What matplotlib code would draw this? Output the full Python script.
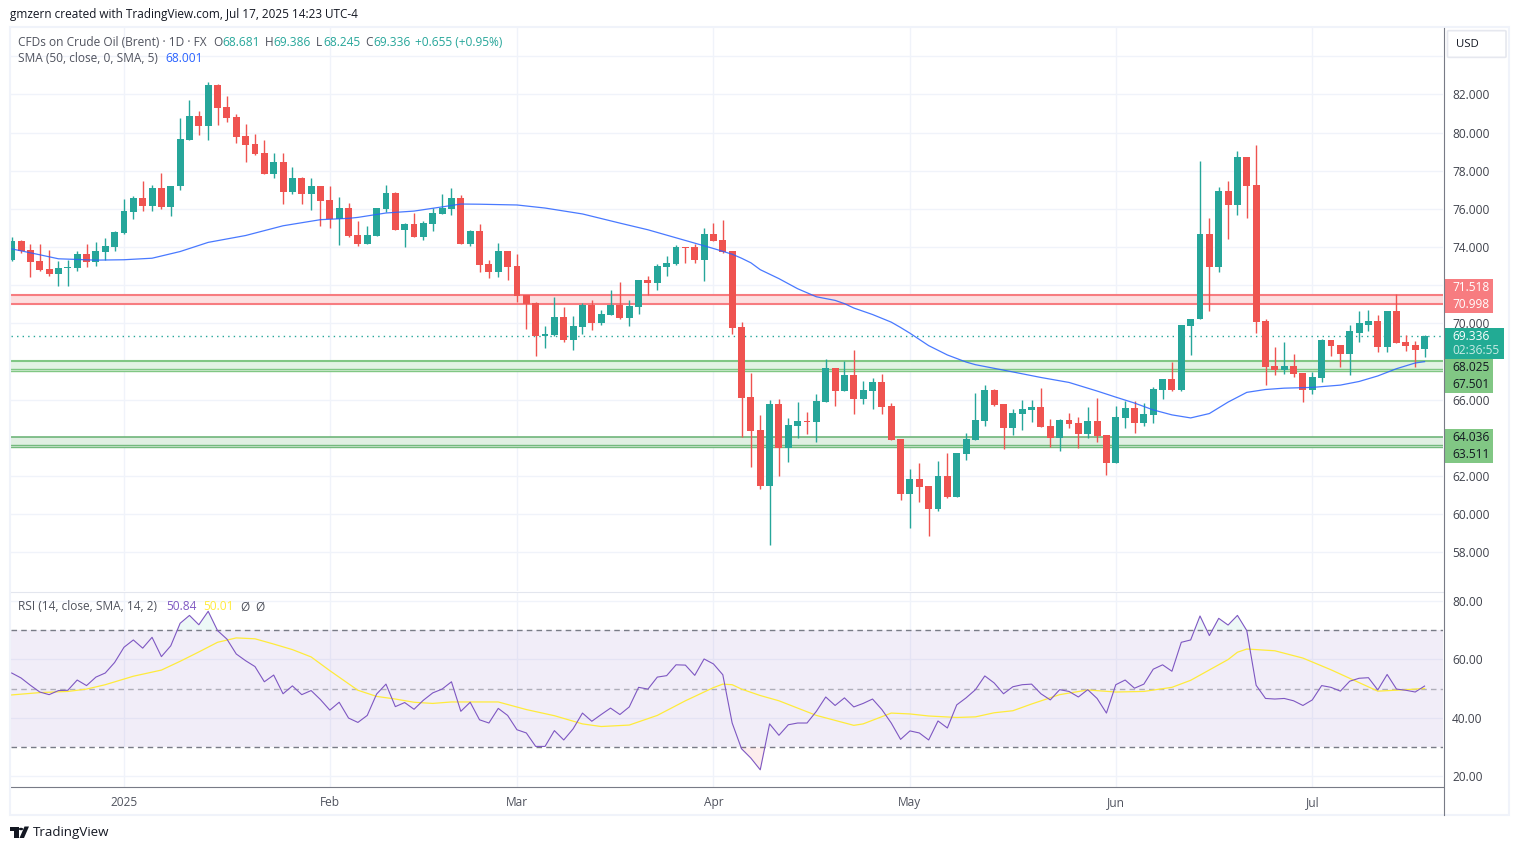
import matplotlib
matplotlib.use('Agg')
import matplotlib.pyplot as plt
from matplotlib.patches import Rectangle, FancyBboxPatch, Circle, Polygon
from matplotlib.ticker import FormatStrFormatter

W, H = 1519, 850

opens = [73.33, 74.33, 73.86, 73.28, 72.86, 72.60, 72.91, 72.91, 73.65, 73.23,
         73.75, 74.02, 74.75, 75.86, 76.60, 76.18, 77.12, 76.12, 77.18, 79.60,
         80.86, 80.33, 82.49, 81.33, 80.81, 79.81, 79.39, 78.91, 77.81, 78.44,
         76.91, 77.60, 76.81, 77.18, 76.49, 75.49, 76.07, 74.65, 74.18, 74.60,
         76.02, 76.86, 74.91, 75.23, 74.54, 75.23, 75.75, 76.02, 76.60, 74.18,
         74.86, 73.12, 72.70, 73.81, 73.02, 71.49, 71.07, 69.33, 69.39, 70.33,
         69.12, 69.81, 70.96, 70.02, 70.44, 70.96, 70.28, 70.86, 72.28, 72.12,
         72.96, 73.12, 74.02, 74.02, 73.33, 74.70, 74.39, 73.81, 69.81, 66.14,
         64.42, 61.48, 65.78, 63.47, 64.62, 64.89, 64.83, 65.88, 67.66, 66.46,
         67.29, 66.04, 66.46, 66.93, 65.67, 63.94, 61.06, 61.85, 61.48, 60.28,
         62.01, 60.91, 63.16, 63.89, 64.89, 66.51, 65.78, 64.52, 65.25, 65.46,
         65.62, 64.62, 64.00, 64.94, 64.78, 64.21, 64.89, 64.15, 62.69, 65.06,
         65.58, 64.80, 65.22, 66.53, 67.11, 66.53, 69.89, 70.21, 74.67, 72.94,
         76.93, 76.20, 78.72, 77.25, 70.15, 67.79, 67.58, 67.79, 67.42, 66.53,
         67.16, 69.16, 68.89, 68.42, 69.52, 69.94, 70.15, 68.79, 70.63, 69.05,
         68.89, 68.681]
closes = [74.33, 73.81, 73.23, 72.81, 72.60, 72.91, 72.96, 73.65, 73.23, 73.81,
          74.07, 74.81, 75.91, 76.60, 76.18, 77.12, 76.12, 77.23, 79.65, 80.86,
          80.33, 82.49, 81.28, 80.75, 79.75, 79.33, 78.86, 77.81, 78.44, 76.91,
          77.60, 76.81, 77.18, 76.44, 75.49, 76.07, 74.60, 74.18, 74.65, 76.07,
          76.86, 74.91, 75.23, 74.54, 75.28, 75.81, 76.07, 76.60, 74.18, 74.86,
          73.07, 72.70, 73.81, 72.96, 71.44, 71.02, 69.33, 69.44, 70.33, 69.12,
          69.86, 70.96, 70.02, 70.49, 70.96, 70.28, 70.91, 72.28, 72.12, 73.02,
          73.18, 74.02, 73.96, 73.33, 74.70, 74.33, 73.75, 69.75, 66.09, 64.36,
          61.48, 65.78, 63.47, 64.68, 64.89, 64.83, 65.93, 67.66, 66.46, 67.29,
          66.04, 66.51, 66.93, 65.62, 63.89, 61.06, 61.85, 61.43, 60.28, 62.01,
          60.91, 63.21, 63.94, 64.94, 66.51, 65.72, 64.52, 65.31, 65.51, 65.62,
          64.57, 64.00, 64.94, 64.73, 64.21, 64.89, 64.10, 62.69, 65.11, 65.58,
          64.80, 65.27, 66.58, 67.11, 66.53, 69.94, 70.26, 74.67, 72.94, 76.93,
          76.20, 78.72, 77.19, 70.10, 67.74, 67.58, 67.79, 67.37, 66.53, 67.21,
          69.16, 68.84, 68.42, 69.58, 70.00, 70.15, 68.79, 70.63, 69.00, 68.84,
          68.63, 69.336]
highs = [74.54, 74.39, 74.18, 74.18, 73.86, 73.28, 73.33, 73.81, 74.18, 74.28,
         74.49, 74.86, 76.54, 76.70, 77.49, 77.28, 77.86, 77.23, 80.75, 81.70,
         81.12, 82.65, 82.54, 81.91, 80.96, 80.44, 79.91, 79.60, 78.96, 78.96,
         78.18, 77.70, 77.60, 77.18, 77.23, 76.65, 76.33, 75.39, 75.12, 76.07,
         77.28, 76.91, 75.28, 75.81, 75.39, 76.07, 76.81, 77.12, 76.75, 74.91,
         75.23, 73.33, 74.23, 73.81, 73.65, 71.49, 71.12, 69.86, 71.39, 70.86,
         70.39, 71.07, 71.23, 70.70, 71.75, 72.18, 71.23, 72.28, 72.49, 73.12,
         73.54, 74.12, 74.02, 74.18, 75.02, 75.28, 75.44, 73.81, 70.07, 67.40,
         65.20, 65.99, 66.04, 65.04, 65.88, 65.36, 66.30, 68.13, 67.66, 68.03,
         68.60, 66.98, 67.14, 67.35, 65.83, 63.94, 62.37, 62.69, 61.48, 62.79,
         63.21, 63.21, 64.26, 66.35, 66.77, 66.56, 65.78, 65.51, 65.99, 65.99,
         66.61, 64.99, 64.99, 65.31, 65.10, 65.62, 66.09, 64.15, 65.67, 65.95,
         65.95, 65.85, 66.69, 67.11, 68.00, 69.94, 70.26, 78.51, 75.51, 77.14,
         77.46, 79.03, 78.72, 79.35, 70.21, 68.79, 69.05, 68.42, 67.42, 67.47,
         69.21, 69.16, 68.89, 69.94, 70.68, 70.73, 70.47, 70.68, 71.57, 69.42,
         69.10, 69.386]
lows = [73.28, 73.70, 72.44, 72.75, 72.49, 71.96, 71.96, 72.75, 72.96, 73.02,
        73.33, 73.81, 74.70, 75.49, 75.91, 75.91, 76.02, 75.65, 77.02, 79.60,
        79.86, 79.60, 80.39, 80.54, 79.44, 78.44, 78.81, 77.81, 77.60, 76.28,
        76.81, 76.28, 75.96, 75.12, 75.02, 74.12, 74.54, 74.07, 74.18, 74.60,
        75.86, 74.91, 74.02, 74.54, 74.39, 74.86, 75.75, 75.70, 74.18, 74.07,
        72.70, 72.39, 72.44, 72.28, 71.12, 69.70, 68.28, 68.70, 69.33, 69.02,
        68.60, 69.44, 69.65, 69.91, 70.44, 70.23, 69.86, 70.49, 71.49, 71.75,
        72.49, 73.07, 73.18, 73.18, 72.23, 74.33, 73.70, 69.44, 64.03, 62.48,
        61.33, 58.39, 62.01, 62.74, 64.00, 64.21, 63.79, 65.88, 65.67, 66.46,
        65.25, 65.78, 65.51, 65.25, 63.89, 60.75, 59.28, 60.65, 58.87, 60.17,
        60.86, 60.91, 62.84, 63.89, 64.62, 65.67, 63.42, 64.15, 64.42, 64.83,
        64.57, 63.53, 63.32, 64.52, 63.47, 64.00, 63.79, 62.06, 62.69, 64.53,
        64.27, 64.64, 64.80, 66.06, 66.48, 66.48, 68.37, 70.21, 70.63, 72.68,
        74.41, 75.67, 75.51, 69.52, 66.79, 67.32, 67.37, 67.21, 65.90, 66.32,
        66.95, 68.32, 67.74, 67.32, 69.05, 69.63, 68.53, 68.53, 69.00, 68.58,
        67.74, 68.245]

sma_days = [0, 3, 5, 9, 12, 15, 18, 21, 25, 29, 33, 36, 37, 40, 43, 46, 48, 50, 54, 57,
            61, 65, 68, 72, 75, 77, 78, 79, 80, 82, 84, 86, 88, 89, 90, 92, 94, 95, 96,
            98, 100, 102, 103, 105, 107, 110, 113, 116, 118, 120, 122, 124, 126, 128,
            130, 132, 134, 136, 139, 142, 144, 146, 148, 150, 151]
sma_values = [73.91, 73.60, 73.39, 73.32, 73.34, 73.42, 73.77, 74.25, 74.61, 75.12, 75.44,
              75.51, 75.56, 75.79, 75.89, 76.11, 76.26, 76.25, 76.21, 76.05, 75.74, 75.26,
              74.91, 74.35, 73.93, 73.63, 73.42, 73.18, 72.82, 72.35, 71.82, 71.40, 71.21,
              71.04, 70.81, 70.47, 70.07, 69.79, 69.49, 68.84, 68.35, 67.98, 67.84, 67.65,
              67.46, 67.17, 66.91, 66.46, 66.14, 65.83, 65.47, 65.21, 65.05, 65.28, 65.88,
              66.39, 66.54, 66.61, 66.65, 66.77, 66.96, 67.25, 67.63, 67.93, 68.00]

rsi = [55.3, 53.6, 51.1, 48.8, 47.9, 49.3, 49.4, 52.9, 51.0, 53.9,
       55.3, 58.9, 64.1, 66.6, 63.8, 67.5, 60.9, 64.6, 72.3, 75.0,
       71.8, 76.4, 69.8, 66.9, 61.8, 59.5, 57.5, 52.3, 54.6, 48.2,
       50.9, 47.9, 49.3, 46.2, 42.6, 45.3, 39.9, 38.4, 40.8, 48.1,
       51.5, 43.8, 45.2, 42.9, 46.0, 48.5, 49.8, 52.3, 42.2, 45.3,
       39.3, 38.2, 43.2, 40.8, 35.9, 34.8, 30.2, 30.2, 35.6, 32.4,
       36.2, 41.6, 38.8, 41.1, 43.3, 41.1, 43.7, 50.4, 49.8, 53.9,
       54.4, 58.1, 58.0, 54.5, 60.1, 58.4, 54.7, 38.2, 29.4, 26.2,
       22.2, 37.9, 34.0, 37.6, 38.2, 38.2, 42.2, 47.1, 44.2, 46.8,
       43.7, 44.9, 46.4, 42.8, 38.2, 32.6, 35.5, 34.8, 32.4, 38.9,
       36.5, 44.4, 46.8, 49.6, 54.3, 51.9, 48.2, 50.6, 51.3, 51.5,
       48.2, 46.1, 49.6, 49.0, 47.1, 49.6, 46.6, 41.6, 51.3, 52.9,
       50.1, 51.5, 56.6, 58.1, 55.9, 65.8, 66.6, 74.8, 68.1, 74.0,
       71.7, 75.0, 69.8, 51.1, 46.6, 46.4, 46.6, 45.8, 44.2, 46.1,
       51.0, 50.4, 49.1, 52.5, 53.5, 53.7, 49.5, 54.8, 49.8, 49.4,
       48.8, 50.84]

rsi_ma_days = [0, 3, 6, 8, 10, 13, 16, 18, 20, 22, 24, 26, 28, 30, 32, 34, 37, 39, 41, 43,
               45, 47, 52, 55, 58, 61, 63, 66, 69, 72, 75, 76, 77, 78, 80, 82, 86, 90, 91,
               94, 96, 98, 101, 103, 105, 107, 109, 112, 115, 118, 121, 124, 126, 130, 131,
               132, 135, 138, 141, 146, 149, 151]
rsi_ma = [47.8, 48.6, 49.0, 49.8, 51.3, 54.2, 56.3, 59.3, 62.5, 65.8, 67.3, 67.0, 65.2,
          63.3, 60.8, 56.1, 49.4, 47.3, 46.4, 45.3, 44.9, 45.4, 45.4, 42.8, 40.7, 37.9,
          37.0, 37.5, 40.8, 45.8, 50.3, 51.5, 51.3, 49.8, 47.6, 45.8, 40.8, 37.4, 37.9,
          41.6, 41.3, 40.6, 40.1, 40.3, 41.7, 42.4, 44.7, 47.9, 49.5, 48.8, 49.0, 50.4,
          52.8, 59.9, 62.4, 63.5, 62.9, 60.4, 56.4, 49.1, 49.6, 50.01]

month_days = [12, 34, 54, 75, 96, 118, 139]
month_labels = ['2025', 'Feb', 'Mar', 'Apr', 'May', 'Jun', 'Jul']
price_ticks = [58, 60, 62, 64, 66, 68, 70, 72, 74, 76, 78, 80, 82]
price_labels = ['58.000', '60.000', '62.000', '', '66.000', '', '70.000', '', '74.000',
                '76.000', '78.000', '80.000', '82.000']
rsi_ticks = [20, 40, 60, 80]
last_price = 69.336

GREEN = '#26a69a'
RED = '#ef5350'
GRID = '#f0f3fa'
AXIS = '#787b86'
TEXT = '#50535e'
plt.rcParams['font.family'] = ['Open Sans', 'DejaVu Sans']


def fx(px):
    return px / W


def fy(py):
    return 1 - py / H


def pane(left, top, right, bottom):
    return fig.add_axes([fx(left), fy(bottom), (right - left) / W, (bottom - top) / H])


def badge(left, top, right, bottom, color):
    fig.add_artist(Rectangle((fx(left), fy(bottom)), (right - left) / W, (bottom - top) / H,
                             transform=fig.transFigure, facecolor=color, edgecolor='none'))


def label(px, py, s, color=TEXT, size=8.6, **kw):
    fig.text(fx(px), fy(py), s, color=color, fontsize=size, va='center', **kw)


fig = plt.figure(figsize=(W / 100, H / 100), dpi=100, facecolor='white')
ax = pane(10.5, 28, 1443, 591)
ax2 = pane(10.5, 592, 1443, 787)

days = list(range(len(closes)))
x_lim = (-0.128, 152.97)

# price pane
ax.set_xlim(*x_lim)
ax.set_ylim(55.98, 85.485)
ax.set_yticks(price_ticks)
ax.set_yticklabels(price_labels)
ax.yaxis.tick_right()
ax.tick_params(axis='y', length=0, pad=6.5, labelsize=8.6, labelcolor='#3f424c')
ax.set_xticks(month_days)
ax.tick_params(axis='x', length=0, labelbottom=False)
ax.grid(True, color=GRID, lw=1, zorder=0)
ax.axhline(84, color=GRID, lw=1, zorder=0)
ax.set_axisbelow(True)
for s in ax.spines.values():
    s.set_visible(False)

ax.axhspan(70.998, 71.518, color='#fddfe0', lw=0, zorder=1)
ax.axhline(71.518, color='#f77c80', lw=1.5, zorder=1.2)
ax.axhline(70.998, color='#f77c80', lw=1.5, zorder=1.2)
ax.axhspan(67.501, 68.025, color='#e3f3e4', lw=0, zorder=1)
ax.axhline(68.025, color='#81c784', lw=1.5, zorder=1.2)
ax.axhline(67.64, color='#81c784', lw=1, zorder=1.2)
ax.axhline(67.501, color='#81c784', lw=1, zorder=1.2)
ax.axhspan(63.511, 64.036, color='#e0efe2', lw=0, zorder=1)
ax.axhline(64.036, color='#6fb57a', lw=1.2, zorder=1.2)
ax.axhline(63.62, color='#74ba7e', lw=1, zorder=1.2)
ax.axhline(63.511, color='#74ba7e', lw=1, zorder=1.2)

ax.axhline(last_price, color=GREEN, lw=1, ls=(0, (1, 3)), zorder=1.5)

colors = [GREEN if c >= o else RED for o, c in zip(opens, closes)]
ax.vlines(days, lows, highs, colors=colors, lw=1.0, zorder=2)
body_bottom = [min(o, c) for o, c in zip(opens, closes)]
body_height = [abs(o - c) for o, c in zip(opens, closes)]
ax.bar(days, body_height, width=0.74, bottom=body_bottom, color=colors, lw=0, zorder=2.1)
ax.plot(sma_days, sma_values, color='#2962ff', lw=0.9, alpha=0.85, zorder=3)

# rsi pane
ax2.set_xlim(*x_lim)
ax2.set_ylim(16.32, 83.0)
ax2.set_yticks(rsi_ticks)
ax2.yaxis.set_major_formatter(FormatStrFormatter('%.2f'))
ax2.yaxis.tick_right()
ax2.tick_params(axis='y', length=0, pad=6.5, labelsize=8.6, labelcolor='#3f424c')
ax2.set_xticks(month_days)
ax2.set_xticklabels(month_labels)
ax2.tick_params(axis='x', length=0, pad=6.5, labelsize=8.6, labelcolor=TEXT)
ax2.grid(True, color=GRID, lw=1, zorder=0)
ax2.set_axisbelow(True)
for name, s in ax2.spines.items():
    s.set_visible(name == 'bottom')
ax2.spines['bottom'].set_color(AXIS)
ax2.spines['bottom'].set_linewidth(0.8)

ax2.axhspan(30, 70, color='#7e57c2', alpha=0.1, lw=0, zorder=1)
ax2.axhline(70, color=AXIS, lw=1, ls=(0, (4, 3)), zorder=1.5)
ax2.axhline(50, color=AXIS, alpha=0.55, lw=1, ls=(0, (4, 3)), zorder=1.5)
ax2.axhline(30, color=AXIS, lw=1, ls=(0, (4, 3)), zorder=1.5)
ax2.fill_between(days, rsi, 70, where=[v > 70 for v in rsi], interpolate=True,
                 color='#26a69a', alpha=0.08, lw=0, zorder=1.6)
ax2.fill_between(days, rsi, 30, where=[v < 30 for v in rsi], interpolate=True,
                 color='#ef5350', alpha=0.1, lw=0, zorder=1.6)
ax2.plot(rsi_ma_days, rsi_ma, color='#ffeb3b', lw=0.9, zorder=2)
ax2.plot(days, rsi, color='#7e57c2', lw=0.8, zorder=3)

# frame
fig.add_artist(Rectangle((fx(10), fy(815)), 1499 / W, 788 / H, transform=fig.transFigure,
                         facecolor='none', edgecolor='#f0f3fa', lw=1.5))
fig.add_artist(plt.Line2D([fx(10.5), fx(1443)], [fy(591.5)] * 2, color='#e3e6ee', lw=0.8))
fig.add_artist(plt.Line2D([fx(1443.5)] * 2, [fy(28), fy(815)], color=AXIS, lw=0.8))

# price scale badges
badge(1444, 279, 1493, 313, '#f77c80')
label(1452, 287.5, '71.518', color='white')
label(1452, 304.5, '70.998', color='white')
badge(1444, 359, 1493, 393, '#81c784')
label(1452, 368, '68.025', color='#131722')
label(1452, 385, '67.501', color='#131722')
badge(1444, 429, 1493, 463, '#81c784')
label(1452, 437.5, '64.036', color='#131722')
label(1452, 454.5, '63.511', color='#131722')
badge(1444, 328, 1504, 359, '#22ab94')
label(1452, 337, '69.336', color='white')
label(1452, 351, '02:36:55', color='#c8ebe5')

fig.add_artist(FancyBboxPatch((fx(1449), fy(56.5)), 55.5 / W, 25 / H, transform=fig.transFigure,
                              boxstyle='round,pad=0.001', facecolor='white',
                              edgecolor='#e6e8ef', lw=1.2))
label(1456, 44.5, 'USD', color='#131722', size=8.2)

# legends
label(10, 14.5, 'gmzern created with TradingView.com, Jul 17, 2025 14:23 UTC-4', color='#131722', size=8.5)
label(18, 42, 'CFDs on Crude Oil (Brent) · 1D · FX', size=8.6)
for px, s in [(213, 'O'), (265, 'H'), (316, 'L'), (365, 'C')]:
    label(px, 42, s, size=8.6)
for px, s in [(222, '68.681'), (273, '69.386'), (323, '68.245'), (373, '69.336'), (415, '+0.655 (+0.95%)')]:
    label(px, 42, s, color=GREEN, size=8.6)
label(18, 59, 'SMA (50, close, 0, SMA, 5)', size=8.6)
label(165, 59, '68.001', color='#2962ff', size=8.6)
label(18, 607, 'RSI (14, close, SMA, 14, 2)', size=8.6)
label(166.5, 607, '50.84', color='#7e57c2', size=8.6)
label(203, 607, '50.01', color='#ffeb3b', size=8.6)
label(240.5, 607, 'Ø', size=8.6)
label(255, 607, 'Ø', size=8.6)

# logo
ink = '#131722'
fig.add_artist(Rectangle((fx(10), fy(831)), 8.5 / W, 4.5 / H, transform=fig.transFigure, color=ink, lw=0))
fig.add_artist(Rectangle((fx(14), fy(838)), 4.5 / W, 10 / H, transform=fig.transFigure, color=ink, lw=0))
fig.add_artist(Polygon([(fx(24), fy(838)), (fx(29), fy(826.5)), (fx(24.5), fy(826.5)), (fx(19.5), fy(838))],
                       transform=fig.transFigure, color=ink, lw=0))
fig.add_artist(Circle((fx(21), fy(829)), 2.2 / W, transform=fig.transFigure, color=ink, lw=0))
label(33, 832.5, 'TradingView', color='#131722', size=9.6)

fig.savefig('out.png', dpi=100, facecolor='white')
